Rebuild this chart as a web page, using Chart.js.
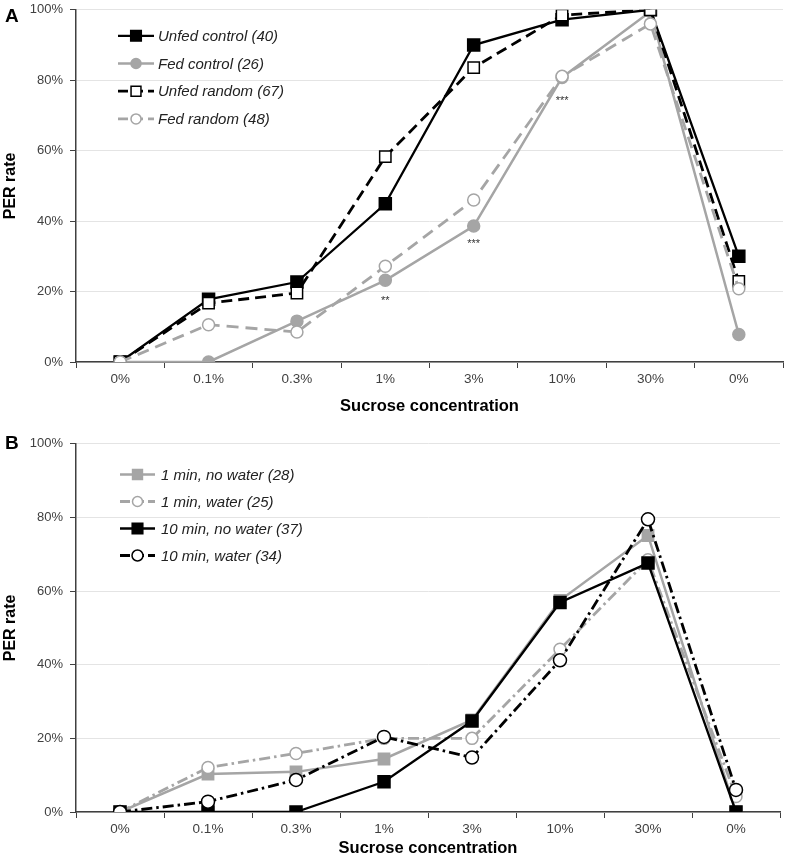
<!DOCTYPE html>
<html><head><meta charset="utf-8">
<script src="https://cdn.jsdelivr.net/npm/chart.js@4/dist/chart.umd.min.js"></script>
<style>
html,body{margin:0;padding:0;background:#fff;}
#wrap{position:relative;width:788px;height:858px;overflow:hidden;font-family:'Liberation Sans',Arial,sans-serif;}
.box{position:absolute;left:0;}
#boxA{top:-5px;height:445px;width:793px;}
#boxB{top:429px;height:429px;width:790px;}
.panel{position:absolute;font-weight:bold;font-size:19px;line-height:22px;color:#000;}
</style></head><body>
<div id="wrap">
<div class="box" id="boxA"><canvas id="cA"></canvas></div>
<div class="box" id="boxB"><canvas id="cB"></canvas></div>
<div class="panel" style="left:5px;top:5px">A</div>
<div class="panel" style="left:5px;top:432px">B</div>
</div>
<script>
// ---- data ----
const categories = ['0%','0.1%','0.3%','1%','3%','10%','30%','0%'];
const yTicks = [0,20,40,60,80,100];

// Panel A
const unfedControl = [0, 17.8, 22.7, 44.9, 90.0, 97.2, 100, 30.0];
const fedControl   = [0, 0, 11.6, 23.2, 38.6, 80.8, 99.5, 7.8];
const unfedRandom  = [0, 16.7, 19.6, 58.3, 83.6, 98.5, 100, 22.9];
const fedRandom    = [0, 10.6, 8.5, 27.2, 46.0, 81.1, 96.0, 20.8];
const seriesNamesA = ['Unfed control (40)','Fed control (26)','Unfed random (67)','Fed random (48)'];
const starsA = [{cat:3, value:18.3, text:'**'},{cat:4, value:34.3, text:'***'},{cat:5, value:74.9, text:'***'}];

// Panel B
const oneMinNoWater = [0, 10.3, 10.9, 14.4, 25.0, 57.5, 75.1, 0];
const oneMinWater   = [0, 12.1, 15.9, 20.0, 20.0, 44.2, 68.5, 4.2];
const tenMinNoWater = [0, 0, 0, 8.2, 24.7, 56.9, 67.6, 0];
const tenMinWater   = [0, 2.8, 8.7, 20.4, 14.8, 41.2, 79.5, 6.0];
const seriesNamesB = ['1 min, no water (28)','1 min, water (25)','10 min, no water (37)','10 min, water (34)'];

// ---- styling ----
const FONT = "'Liberation Sans', Arial, sans-serif";
Chart.defaults.font.family = FONT;
const GRAY = '#a5a5a5';
const BLACK = '#000000';
const TICKC = '#404040';

const insideLegend = {
  id: 'insideLegend',
  afterDraw(chart, args, o) {
    const ctx = chart.ctx, ca = chart.chartArea;
    ctx.save();
    chart.data.datasets.forEach((ds, i) => {
      const y = ca.top + o.y0 + i * o.dy;
      const x0 = ca.left + o.x0;
      ctx.strokeStyle = ds.borderColor;
      ctx.lineWidth = ds.borderWidth;
      ctx.setLineDash(ds.legendDash || []);
      ctx.beginPath(); ctx.moveTo(x0, y); ctx.lineTo(x0 + o.len, y); ctx.stroke();
      ctx.setLineDash([]);
      ctx.fillStyle = ds.pointBackgroundColor;
      ctx.strokeStyle = ds.pointBorderColor;
      ctx.lineWidth = ds.pointBorderWidth;
      Chart.helpers.drawPoint(ctx, {pointStyle: ds.pointStyle, radius: ds.pointRadius - 1, borderWidth: ds.pointBorderWidth, rotation: 0}, x0 + o.len / 2, y);
      ctx.fillStyle = '#222';
      ctx.font = 'italic 15px ' + FONT;
      ctx.textBaseline = 'middle';
      ctx.textAlign = 'left';
      ctx.fillText(ds.label, x0 + o.textOff, y + 1);
    });
    ctx.restore();
  }
};

const starPlugin = {
  id: 'stars',
  afterDatasetsDraw(chart, args, o) {
    if (!o.items) return;
    const ctx = chart.ctx, xs = chart.scales.x, ys = chart.scales.y;
    ctx.save();
    ctx.fillStyle = '#333';
    ctx.font = '11px ' + FONT;
    ctx.textAlign = 'center';
    ctx.textBaseline = 'middle';
    o.items.forEach(it => {
      ctx.fillText(it.text, xs.getPixelForValue(it.cat), ys.getPixelForValue(it.value) + 3);
    });
    ctx.restore();
  }
};

function mkds(label, data, color, dash, legendDash, style, radius, fill, order, width) {
  return {
    label, data, borderColor: color, borderWidth: width, borderDash: dash, legendDash,
    pointStyle: style, pointRadius: radius, pointHoverRadius: radius,
    pointBackgroundColor: fill, pointBorderColor: color, pointBorderWidth: 1.5,
    tension: 0, fill: false, order
  };
}

function makeChart(id, datasets, pad, xHeight, titleBottomPad, legendOpts, stars) {
  return new Chart(document.getElementById(id), {
    type: 'line',
    data: { labels: categories, datasets },
    plugins: [insideLegend, starPlugin],
    options: {
      responsive: true, maintainAspectRatio: false, animation: false,
      layout: { padding: pad },
      plugins: { legend: {display: false}, tooltip: {enabled: false},
                 insideLegend: legendOpts, stars: {items: stars} },
      scales: {
        x: {
          offset: true,
          ticks: {color: TICKC, font: {size: 13.5}, padding: 3, maxRotation: 0, autoSkip: false},
          grid: {display: true, drawOnChartArea: false, drawTicks: true, tickLength: 6, tickColor: TICKC, offset: true},
          border: {display: true, color: TICKC, width: 1.5},
          title: {display: true, text: 'Sucrose concentration', color: '#000', font: {size: 16.5, weight: 'bold'}, padding: {top: 0, bottom: titleBottomPad}},
          afterFit: s => { s.height = xHeight; }
        },
        y: {
          min: 0, max: 100,
          afterBuildTicks: s => { s.ticks = yTicks.map(v => ({value: v})); },
          ticks: {color: TICKC, font: {size: 13}, padding: 7, callback: v => v + '%'},
          grid: {color: '#e4e4e4', lineWidth: 1, drawTicks: true, tickLength: 6, tickColor: TICKC},
          border: {display: true, color: TICKC, width: 1.5},
          title: {display: true, text: 'PER rate', color: '#000', font: {size: 16, weight: 'bold'}, padding: {top: 1, bottom: 0}},
          afterFit: s => { s.width = 76; }
        }
      }
    }
  });
}

makeChart('cA', [
  mkds(seriesNamesA[0], unfedControl, BLACK, [], [], 'rect', 8.5, BLACK, 4, 2.3),
  mkds(seriesNamesA[1], fedControl, GRAY, [], [], 'circle', 6, GRAY, 3, 2.5),
  mkds(seriesNamesA[2], unfedRandom, BLACK, [11, 6], [10, 5], 'rect', 8, '#fff', 2, 2.8),
  mkds(seriesNamesA[3], fedRandom, GRAY, [12, 7], [10, 5], 'circle', 6, '#fff', 1, 2.8)
], {top: 9, right: 5, bottom: 0, left: 0}, 78, 24,
  {x0: 42, len: 36, textOff: 40, y0: 26, dy: 27.7}, starsA);

makeChart('cB', [
  mkds(seriesNamesB[0], oneMinNoWater, GRAY, [], [], 'rect', 8, GRAY, 4, 2.5),
  mkds(seriesNamesB[1], oneMinWater, GRAY, [11, 4, 2.5, 4], [10, 4], 'circle', 6, '#fff', 3, 2.8),
  mkds(seriesNamesB[2], tenMinNoWater, BLACK, [], [], 'rect', 8.5, BLACK, 2, 2.3),
  mkds(seriesNamesB[3], tenMinWater, BLACK, [11, 4, 2.5, 4], [10, 4], 'circle', 6.5, '#fff', 1, 2.8)
], {top: 13, right: 5, bottom: 0, left: 0}, 46, 0,
  {x0: 44, len: 35, textOff: 41, y0: 30.7, dy: 27}, []);
</script>
</body></html>
